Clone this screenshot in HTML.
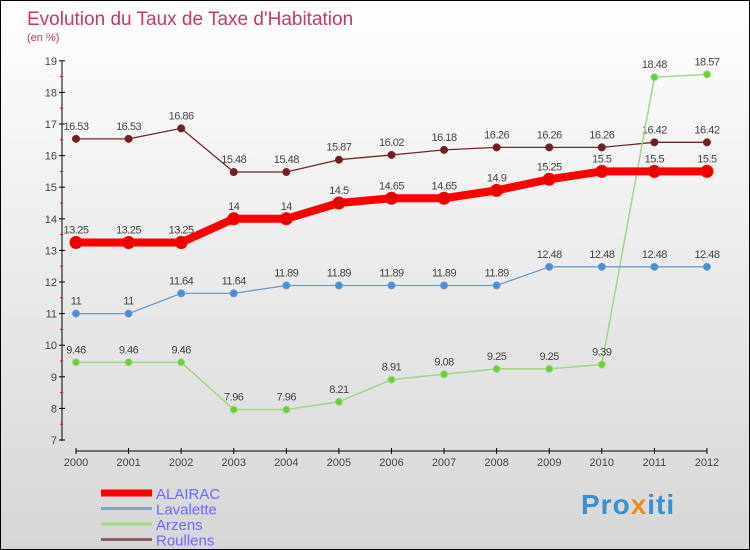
<!DOCTYPE html>
<html><head><meta charset="utf-8"><style>
body{margin:0}
#c{width:750px;height:550px;box-sizing:border-box;border:1px solid #000;background:linear-gradient(#fff,#d6d6d6);position:relative;font-family:"Liberation Sans",sans-serif;overflow:hidden}
</style></head><body>
<div id="c">
<svg id="s" width="750" height="550" style="position:absolute;left:0;top:0">
<text x="26" y="24" font-size="19" fill="#c8366b">Evolution du Taux de Taxe d'Habitation</text>
<text x="26" y="40" font-size="11" fill="#c8366b">(en %)</text>
</svg>
<div style="position:absolute;left:580px;top:488px;font-size:28px;font-weight:bold;letter-spacing:1px"><span style="color:#3a8fd0">Pro</span><span style="color:#f08a1c">x</span><span style="color:#3a8fd0">iti</span></div>
</div>
<script>
const years=[2000,2001,2002,2003,2004,2005,2006,2007,2008,2009,2010,2011,2012];
const alairac=[13.25,13.25,13.25,14,14,14.5,14.65,14.65,14.9,15.25,15.5,15.5,15.5];
const lavalette=[11,11,11.64,11.64,11.89,11.89,11.89,11.89,11.89,12.48,12.48,12.48,12.48];
const arzens=[9.46,9.46,9.46,7.96,7.96,8.21,8.91,9.08,9.25,9.25,9.39,18.48,18.57];
const roullens=[16.53,16.53,16.86,15.48,15.48,15.87,16.02,16.18,16.26,16.26,16.26,16.42,16.42];
const yTicks=[7,8,9,10,11,12,13,14,15,16,17,18,19];
const NS='http://www.w3.org/2000/svg',s=document.getElementById('s');
const X=i=>75+i*52.58, Y=v=>439-(v-7)*31.6;
function el(t,a,name){const e=document.createElementNS(NS,t);for(const k in a)e.setAttribute(k,a[k]);


s.appendChild(e);return e;}
el('line',{x1:61,y1:60,x2:61,y2:440,stroke:'#000'},'y-axis');
el('line',{x1:75,y1:450,x2:706,y2:450,stroke:'#000'},'x-axis');
yTicks.forEach(v=>{el('line',{x1:58,x2:64,y1:Y(v),y2:Y(v),stroke:'#000'},'y-tick');
if(v<19)el('line',{x1:59,x2:62,y1:Y(v+0.5),y2:Y(v+0.5),stroke:'#f00'},'y-minor-tick');
const t=el('text',{x:56,y:Y(v)+4,'font-size':11,fill:'#444','text-anchor':'end'},'y-tick-label');t.textContent=v;});
years.forEach((y,i)=>{el('line',{x1:X(i),x2:X(i),y1:447,y2:453,stroke:'#000'},'x-tick');
const t=el('text',{x:X(i),y:465,'font-size':11,fill:'#444','text-anchor':'middle'},'x-tick-label');t.textContent=y;});
function series(d,col,w,r,dot,name){
el('polyline',{points:d.map((v,i)=>X(i)+','+Y(v)).join(' '),fill:'none',stroke:col,'stroke-width':w,'stroke-linejoin':'round'},name+'-line');
d.forEach((v,i)=>{el('circle',{cx:X(i),cy:Y(v),r:r,fill:dot,stroke:col},name+'-point');
const t=el('text',{x:X(i),y:Y(v)-9,'font-size':11,fill:'#444','text-anchor':'middle','letter-spacing':'-0.5'},name+'-value');t.textContent=v;});}
series(roullens,'#6e2a2a',1.3,3.5,'#6e1f1f','roullens');
series(arzens,'#9ed884',1.5,3.5,'#6ccc3c','arzens');
series(lavalette,'#6a9ccc',1.3,3.5,'#4a8ed0','lavalette');
series(alairac,'#f00',8,6,'#e00','alairac');
const leg=[['ALAIRAC','#f00',7],['Lavalette','#7aa6cc',3],['Arzens','#9ed884',3],['Roullens','#8a6060',3]];
leg.forEach((l,i)=>{const y=492+i*15.5;
el('line',{x1:100,x2:151,y1:y,y2:y,stroke:l[1],'stroke-width':l[2]},'legend-swatch');
const t=el('text',{x:155,y:y+6,'font-size':15,fill:'#6a6aff'},'legend-entry');t.textContent=l[0];});
</script>
</body></html>
